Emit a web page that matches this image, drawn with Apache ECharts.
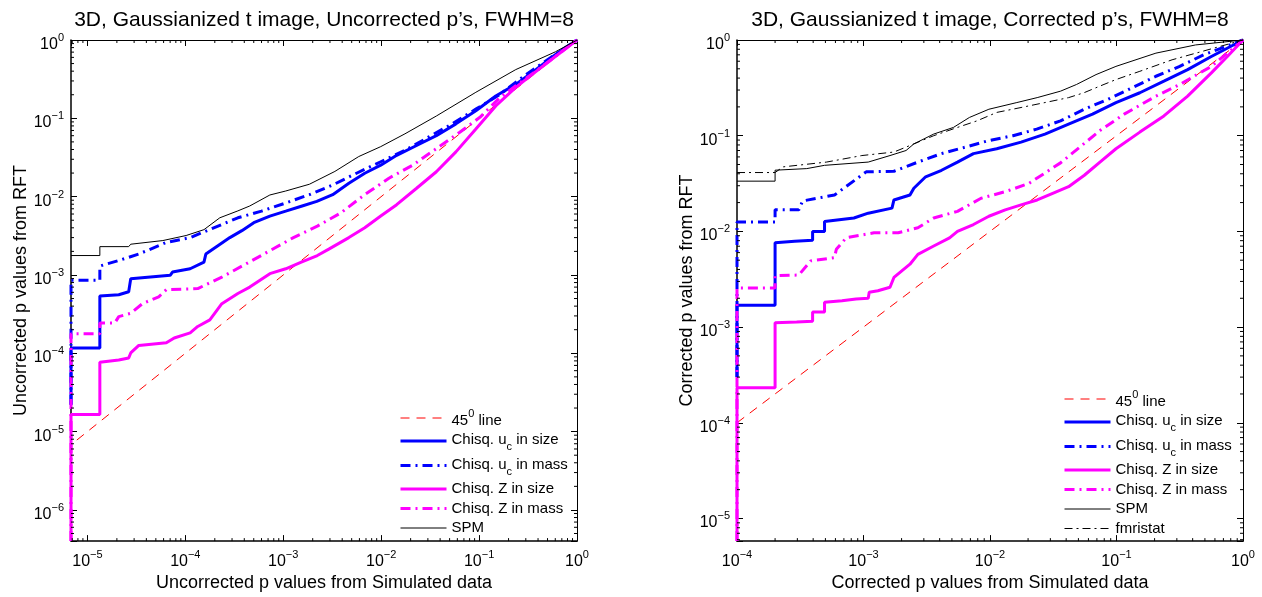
<!DOCTYPE html>
<html>
<head>
<meta charset="utf-8">
<script src="https://cdn.jsdelivr.net/npm/echarts@6/dist/echarts.min.js"></script>
<style>
  html, body { margin: 0; padding: 0; background: #fff; }
  #chart { width: 1262px; height: 597px; }
</style>
</head>
<body>
<div id="chart"></div>
<script>
// ---- axis ranges [min, max] ----
var xRangeL = [6.8e-6, 1];
var yRangeL = [4.0e-7, 1];
var xRangeR = [1e-4, 1];
var yRangeR = [5.8e-6, 1];

// ---- left panel: uncorrected p values, [simulated, RFT] ----
var leftLine45 = [[7.8e-6, 7.8e-6], [1, 1]];
var leftUcSize = [[6.8e-6, 2.2e-5], [6.8e-6, 1.17e-4], [1.34e-5, 1.17e-4], [1.34e-5, 5.4e-4], [2.09e-5, 5.6e-4], [2.64e-5, 6.1e-4],
  [2.77e-5, 8.95e-4], [7.0e-5, 9.9e-4], [7.4e-5, 1.09e-3], [1.12e-4, 1.2e-3], [1.55e-4, 1.46e-3], [1.62e-4, 1.85e-3],
  [2.15e-4, 2.36e-3], [2.85e-4, 3.0e-3], [3.78e-4, 3.68e-3], [5.0e-4, 4.65e-3], [7.3e-4, 5.65e-3], [1.06e-3, 6.53e-3],
  [1.53e-3, 7.55e-3], [2.2e-3, 8.7e-3], [3.2e-3, 1.06e-2], [4.68e-3, 1.48e-2], [6.8e-3, 1.99e-2], [9.9e-3, 2.52e-2],
  [1.44e-2, 3.37e-2], [2.3e-2, 4.5e-2], [3.66e-2, 6.0e-2], [5.8e-2, 8.5e-2], [9.27e-2, 0.125], [0.148, 0.193],
  [0.237, 0.271], [0.38, 0.419], [0.601, 0.647], [0.796, 0.824], [1, 1]];
var leftUcMass = [[6.8e-6, 2.2e-5], [6.8e-6, 8.55e-4], [1.34e-5, 8.55e-4], [1.34e-5, 1.3e-3], [2.09e-5, 1.53e-3], [3.35e-5, 1.85e-3],
  [6.4e-5, 2.6e-3], [1.12e-4, 3.0e-3], [1.95e-4, 4.0e-3], [3.44e-4, 5.37e-3], [6.0e-4, 6.53e-3], [1.06e-3, 8.3e-3],
  [1.85e-3, 1.06e-2], [3.2e-3, 1.41e-2], [5.6e-3, 1.99e-2], [9.9e-3, 2.79e-2], [1.75e-2, 3.9e-2], [3.04e-2, 5.75e-2],
  [5.3e-2, 8.5e-2], [9.27e-2, 0.131], [0.163, 0.202], [0.286, 0.345], [0.5, 0.56], [1, 1]];
var leftZSize = [[6.8e-6, 4.0e-7], [6.8e-6, 1.65e-5], [1.34e-5, 1.65e-5], [1.34e-5, 7.7e-5], [2.09e-5, 8.2e-5], [2.64e-5, 8.7e-5],
  [2.77e-5, 1.01e-4], [3.35e-5, 1.26e-4], [6.4e-5, 1.36e-4], [7.7e-5, 1.57e-4], [1.12e-4, 1.82e-4], [1.34e-4, 2.2e-4],
  [1.78e-4, 2.67e-4], [2.36e-4, 4.3e-4], [3.44e-4, 5.8e-4], [4.55e-4, 7.0e-4], [7.3e-4, 1.04e-3], [1.06e-3, 1.2e-3],
  [1.53e-3, 1.46e-3], [2.23e-3, 1.77e-3], [2.92e-3, 2.14e-3], [4.68e-3, 3.0e-3], [6.8e-3, 4.0e-3], [9.9e-3, 5.65e-3],
  [1.44e-2, 7.9e-3], [2.3e-2, 1.28e-2], [3.66e-2, 2.08e-2], [5.8e-2, 3.73e-2], [9.27e-2, 7.3e-2], [0.148, 0.144],
  [0.237, 0.248], [0.38, 0.395], [0.601, 0.616], [1, 1]];
var leftZMass = [[6.8e-6, 4.0e-7], [6.8e-6, 1.78e-4], [1.34e-5, 1.78e-4], [1.34e-5, 2.43e-4], [1.9e-5, 2.43e-4], [2.09e-5, 2.94e-4],
  [2.77e-5, 3.24e-4], [3.67e-5, 4.33e-4], [5.35e-5, 5.26e-4], [6.4e-5, 6.5e-4], [1.34e-4, 6.7e-4], [2.36e-4, 9.4e-4],
  [4.15e-4, 1.38e-3], [7.3e-4, 2.04e-3], [1.27e-3, 3.0e-3], [2.23e-3, 4.2e-3], [3.87e-3, 6.2e-3], [6.8e-3, 1.06e-2],
  [1.2e-2, 1.72e-2], [2.1e-2, 2.52e-2], [3.66e-2, 4.1e-2], [6.35e-2, 6.65e-2], [0.102, 0.103], [0.163, 0.184],
  [0.237, 0.26], [0.38, 0.40], [0.601, 0.616], [1, 1]];
var leftSpm = [[6.8e-6, 1.77e-3], [1.34e-5, 1.77e-3], [1.34e-5, 2.3e-3], [2.64e-5, 2.3e-3], [2.77e-5, 2.47e-3], [5.9e-5, 2.75e-3],
  [1.02e-4, 3.19e-3], [1.55e-4, 3.79e-3], [2.25e-4, 5.37e-3], [3.44e-4, 6.58e-3], [4.55e-4, 7.6e-3], [7.3e-4, 1.05e-2],
  [1.06e-3, 1.18e-2], [1.85e-3, 1.44e-2], [3.37e-3, 2.1e-2], [5.9e-3, 3.25e-2], [9.9e-3, 4.35e-2], [1.75e-2, 6.34e-2],
  [3.66e-2, 0.107], [9.27e-2, 0.215], [0.237, 0.419], [0.601, 0.706], [1, 1]];

// ---- right panel: corrected p values ----
var rightLine45 = [[1e-4, 1e-4], [1, 1]];
var rightUcSize = [[1e-4, 3.0e-4], [1e-4, 1.69e-3], [2e-4, 1.69e-3], [2e-4, 7.6e-3], [2.86e-4, 7.9e-3], [3.96e-4, 8.1e-3],
  [3.96e-4, 1.0e-2], [4.92e-4, 1.0e-2], [4.92e-4, 1.27e-2], [8.4e-4, 1.38e-2], [1.09e-3, 1.55e-2], [1.68e-3, 1.75e-2],
  [1.74e-3, 2.13e-2], [2.33e-3, 2.4e-2], [2.5e-3, 2.82e-2], [3.1e-3, 3.72e-2], [4.14e-3, 4.35e-2], [5.53e-3, 5.3e-2],
  [7.4e-3, 6.5e-2], [1.13e-2, 7.3e-2], [1.76e-2, 8.56e-2], [2.72e-2, 0.104], [4.18e-2, 0.132], [6.46e-2, 0.168],
  [9.9e-2, 0.222], [0.153, 0.281], [0.237, 0.371], [0.365, 0.49], [0.562, 0.672], [1, 1]];
var rightUcMass = [[1e-4, 3.0e-4], [1e-4, 1.25e-2], [2e-4, 1.25e-2], [2e-4, 1.68e-2], [3.08e-4, 1.68e-2], [3.3e-4, 2.08e-2],
  [5.9e-4, 2.4e-2], [1.05e-3, 4.19e-2], [1.74e-3, 4.25e-2], [2.69e-3, 5.3e-2], [4.14e-3, 6.5e-2], [6.4e-3, 7.6e-2],
  [9.8e-3, 8.9e-2], [1.52e-2, 0.1], [2.34e-2, 0.117], [3.61e-2, 0.143], [5.57e-2, 0.189], [8.57e-2, 0.24],
  [0.133, 0.317], [0.205, 0.418], [0.316, 0.53], [0.488, 0.7], [1, 1]];
var rightZSize = [[1e-4, 5.8e-6], [1e-4, 2.32e-4], [2e-4, 2.32e-4], [2e-4, 1.11e-3], [2.96e-4, 1.13e-3], [3.96e-4, 1.15e-3],
  [3.96e-4, 1.44e-3], [4.92e-4, 1.44e-3], [4.92e-4, 1.82e-3], [6.76e-4, 1.88e-3], [8.73e-4, 1.97e-3], [1.09e-3, 2.0e-3],
  [1.11e-3, 2.31e-3], [1.3e-3, 2.4e-3], [1.62e-3, 2.61e-3], [1.74e-3, 3.3e-3], [2.33e-3, 4.54e-3], [2.69e-3, 5.75e-3],
  [3.59e-3, 7.03e-3], [4.79e-3, 8.57e-3], [5.53e-3, 1.0e-2], [7.4e-3, 1.18e-2], [9.8e-3, 1.44e-2], [1.32e-2, 1.68e-2],
  [1.76e-2, 1.89e-2], [2.36e-2, 2.13e-2], [3.13e-2, 2.5e-2], [4.18e-2, 2.93e-2], [5.57e-2, 3.86e-2], [7.4e-2, 5.3e-2],
  [9.9e-2, 7.3e-2], [0.153, 0.109], [0.237, 0.161], [0.365, 0.259], [0.562, 0.453], [0.752, 0.672], [1, 1]];
var rightZMass = [[1e-4, 5.8e-6], [1e-4, 2.56e-3], [2e-4, 2.56e-3], [2e-4, 3.44e-3], [3.08e-4, 3.5e-3], [3.82e-4, 4.92e-3],
  [5.9e-4, 5.32e-3], [6.1e-4, 6.5e-3], [7.3e-4, 8.57e-3], [1.21e-3, 9.66e-3], [1.88e-3, 9.66e-3], [2.69e-3, 1.09e-2],
  [3.59e-3, 1.38e-2], [5.53e-3, 1.62e-2], [8.5e-3, 2.22e-2], [1.32e-2, 2.6e-2], [2.03e-2, 3.17e-2], [3.61e-2, 5.2e-2],
  [7.4e-2, 0.113], [0.115, 0.168], [0.205, 0.259], [0.316, 0.343], [0.562, 0.53], [1, 1]];
var rightSpm = [[1e-4, 3.35e-2], [2e-4, 3.35e-2], [2e-4, 4.36e-2], [3.56e-4, 4.53e-2], [4.92e-4, 4.9e-2], [1.09e-3, 5.3e-2],
  [1.62e-3, 6.2e-2], [2.17e-3, 7.0e-2], [2.5e-3, 8.2e-2], [3.59e-3, 0.104], [5.14e-3, 0.122], [6.87e-3, 0.155],
  [9.8e-3, 0.189], [1.63e-2, 0.222], [2.36e-2, 0.25], [3.61e-2, 0.292], [4.83e-2, 0.343], [6.89e-2, 0.435],
  [9.9e-2, 0.53], [0.205, 0.729], [0.422, 0.888], [1, 1]];
var rightFmri = [[1e-4, 4.12e-2], [2e-4, 4.12e-2], [2.31e-4, 4.72e-2], [5.1e-4, 5.3e-2], [9.7e-4, 6.2e-2], [1.74e-3, 6.75e-2],
  [2.33e-3, 7.9e-2], [3.59e-3, 0.1], [5.53e-3, 0.122], [7.9e-3, 0.143], [1.13e-2, 0.175], [1.76e-2, 0.197],
  [2.72e-2, 0.222], [4.18e-2, 0.25], [5.53e-2, 0.281], [7.4e-2, 0.33], [9.9e-2, 0.386], [0.153, 0.471], [0.275, 0.621], [1, 1]];

// ---- text ----
var titleL = "3D, Gaussianized t image, Uncorrected p\u2019s, FWHM=8";
var titleR = "3D, Gaussianized t image, Corrected p\u2019s, FWHM=8";
var xNameL = 'Uncorrected p values from Simulated data';
var yNameL = 'Uncorrected p values from RFT';
var xNameR = 'Corrected p values from Simulated data';
var yNameR = 'Corrected p values from RFT';
var legendL = ['45 line', 'Chisq. uc in size', 'Chisq. uc in mass', 'Chisq. Z in size', 'Chisq. Z in mass', 'SPM'];
var legendR = legendL.concat(['fmristat']);
var legendRich = {
  '45 line': '{sp|45}{sup|0}{sp| line}',
  'Chisq. uc in size': '{sb|Chisq. u}{sub|c}{sb| in size}',
  'Chisq. uc in mass': '{sb|Chisq. u}{sub|c}{sb| in mass}',
  'Chisq. Z in size': '{t|Chisq. Z in size}',
  'Chisq. Z in mass': '{t|Chisq. Z in mass}',
  'SPM': '{t|SPM}',
  'fmristat': '{t|fmristat}'
};

var FONT = '"Liberation Sans", Arial, Helvetica, sans-serif';
var BLUE = '#0000ff', MAG = '#ff00ff', RED = '#ff0000', BLK = '#000000';
var DASHDOT = [10, 5, 2, 5];

var tickRich = {
  b: { fontFamily: FONT, fontSize: 16, color: '#000', verticalAlign: 'bottom', lineHeight: 17 },
  e: { fontFamily: FONT, fontSize: 11, color: '#000', verticalAlign: 'bottom', lineHeight: 11, padding: [0, 0, 9, 0] }
};

function powLabel(v) {
  var e = Math.log10(v), r = Math.round(e);
  if (Math.abs(e - r) > 1e-6) return '';
  return '{b|10}{e|' + (r < 0 ? '\u2212' + (-r) : r) + '}';
}

function logAxis(grid, pos, range, opts) {
  var isX = pos === 'bottom' || pos === 'top';
  var main = pos === 'bottom' || pos === 'left';
  opts = opts || {};
  return {
    type: 'log', logBase: 10, gridIndex: grid, position: pos,
    min: range[0], max: range[1], splitNumber: 5,
    name: opts.name || '', nameLocation: 'middle', nameGap: opts.gap || 0,
    nameTextStyle: { fontFamily: FONT, fontSize: opts.nameSize || 18, color: '#000' },
    axisLine: { show: true, onZero: false, lineStyle: { color: '#000', width: main ? 1.5 : 1 } },
    axisTick: { show: true, inside: true, length: 6, lineStyle: { color: '#000', width: 1 } },
    axisLabel: {
      show: main, margin: isX ? 11 : 7, formatter: powLabel, rich: tickRich,
      padding: isX ? 0 : [8, 0, 0, 0]
    },
    splitLine: { show: false },
    minorTick: { show: false }
  };
}

function minorValues(range) {
  var out = [];
  for (var n = Math.floor(Math.log10(range[0])); n < Math.ceil(Math.log10(range[1])); n++) {
    for (var k = 2; k <= 9; k++) {
      var v = k * Math.pow(10, n);
      if (v > range[0] && v < range[1]) out.push(v);
    }
  }
  return out;
}

// small ticks at 2..9 x 10^n on all four sides of a panel
function minorTicks(xi, yi, xr, yr) {
  var data = [];
  minorValues(xr).forEach(function (v) { data.push([v, yr[1], 0]); });
  minorValues(yr).forEach(function (v) { data.push([xr[1], v, 1]); });
  return {
    type: 'custom', xAxisIndex: xi, yAxisIndex: yi, silent: true, clip: false, z: 5,
    data: data,
    renderItem: function (params, api) {
      var cs = params.coordSys;
      var p = api.coord([api.value(0), api.value(1)]);
      var L = 3, segs;
      if (api.value(2) === 0) {
        segs = [[p[0], cs.y + cs.height, p[0], cs.y + cs.height - L], [p[0], cs.y, p[0], cs.y + L]];
      } else {
        segs = [[cs.x, p[1], cs.x + L, p[1]], [cs.x + cs.width, p[1], cs.x + cs.width - L, p[1]]];
      }
      return {
        type: 'group',
        children: segs.map(function (s) {
          return { type: 'line', shape: { x1: s[0], y1: s[1], x2: s[2], y2: s[3] }, style: { stroke: '#000', lineWidth: 1 } };
        })
      };
    }
  };
}

function curve(name, data, color, width, dash, xi, yi) {
  return {
    name: name, type: 'line', data: data, xAxisIndex: xi, yAxisIndex: yi,
    symbol: 'none', showSymbol: false, clip: false, silent: true,
    lineStyle: { color: color, width: width, type: dash || 'solid' },
    itemStyle: { color: color },
    emphasis: { disabled: true }
  };
}

function legendBox(names, left, top) {
  return {
    orient: 'vertical', left: left, top: top, padding: 0, itemWidth: 46, itemHeight: 10, itemGap: 4.5,
    selectedMode: false, data: names,
    itemStyle: { opacity: 0, borderWidth: 0 },
    lineStyle: { width: 'inherit' },
    formatter: function (n) { return legendRich[n]; },
    textStyle: {
      fontFamily: FONT, fontSize: 15, color: '#000',
      rich: {
        t: { fontFamily: FONT, fontSize: 15, lineHeight: 17, color: '#000' },
        sp: { fontFamily: FONT, fontSize: 15, lineHeight: 20, color: '#000', verticalAlign: 'bottom' },
        sup: { fontFamily: FONT, fontSize: 11, lineHeight: 11, color: '#000', verticalAlign: 'bottom', padding: [0, 0, 9, 0] },
        sb: { fontFamily: FONT, fontSize: 15, lineHeight: 17, color: '#000', verticalAlign: 'top' },
        sub: { fontFamily: FONT, fontSize: 11, lineHeight: 11, color: '#000', verticalAlign: 'top', padding: [9, 0, 0, 0] }
      }
    }
  };
}

var chart = echarts.init(document.getElementById('chart'), null, { renderer: 'canvas' });
chart.setOption({
  animation: false,
  backgroundColor: '#fff',
  textStyle: { fontFamily: FONT },
  grid: [
    { left: 71, top: 40, width: 506, height: 506 },
    { left: 737, top: 40, width: 506, height: 506 }
  ],
  xAxis: [
    logAxis(0, 'bottom', xRangeL, { name: xNameL, gap: 28 }),
    logAxis(0, 'top', xRangeL, { name: titleL, gap: 9, nameSize: 21 }),
    logAxis(1, 'bottom', xRangeR, { name: xNameR, gap: 28 }),
    logAxis(1, 'top', xRangeR, { name: titleR, gap: 9, nameSize: 21 })
  ],
  yAxis: [
    logAxis(0, 'left', yRangeL, { name: yNameL, gap: 38 }),
    logAxis(0, 'right', yRangeL),
    logAxis(1, 'left', yRangeR, { name: yNameR, gap: 39 }),
    logAxis(1, 'right', yRangeR)
  ],
  legend: [legendBox(legendL, 399, 408), legendBox(legendR, 1063, 389)],
  series: [
    curve('45 line', leftLine45, RED, 1, [9, 7], 0, 0),
    curve('Chisq. uc in size', leftUcSize, BLUE, 3, 'solid', 0, 0),
    curve('Chisq. uc in mass', leftUcMass, BLUE, 3, DASHDOT, 0, 0),
    curve('Chisq. Z in size', leftZSize, MAG, 3, 'solid', 0, 0),
    curve('Chisq. Z in mass', leftZMass, MAG, 3, DASHDOT, 0, 0),
    curve('SPM', leftSpm, BLK, 1, 'solid', 0, 0),
    curve('45 line', rightLine45, RED, 1, [9, 7], 2, 2),
    curve('Chisq. uc in size', rightUcSize, BLUE, 3, 'solid', 2, 2),
    curve('Chisq. uc in mass', rightUcMass, BLUE, 3, DASHDOT, 2, 2),
    curve('Chisq. Z in size', rightZSize, MAG, 3, 'solid', 2, 2),
    curve('Chisq. Z in mass', rightZMass, MAG, 3, DASHDOT, 2, 2),
    curve('SPM', rightSpm, BLK, 1, 'solid', 2, 2),
    curve('fmristat', rightFmri, BLK, 1, [8, 4, 2, 4], 2, 2),
    minorTicks(0, 0, xRangeL, yRangeL),
    minorTicks(2, 2, xRangeR, yRangeR)
  ]
});
</script>
</body>
</html>
